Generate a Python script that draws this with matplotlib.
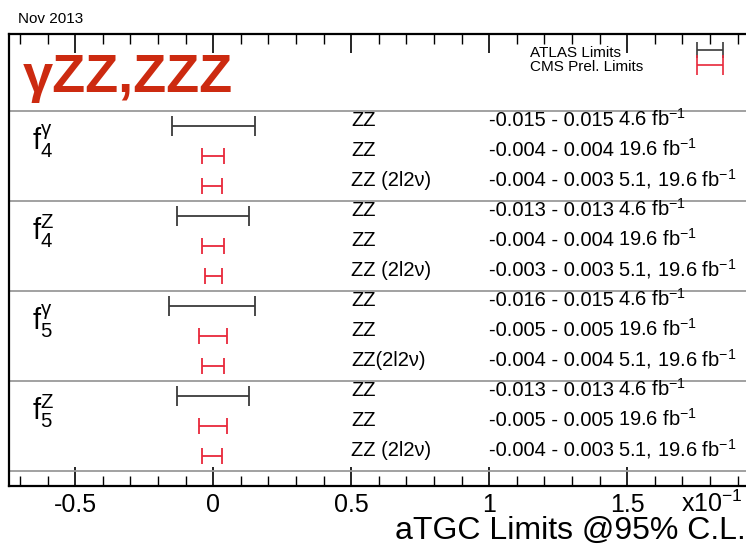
import numpy as np
import matplotlib
matplotlib.use("Agg")
import matplotlib.pyplot as plt

plt.rcParams['font.family'] = ['Liberation Sans', 'DejaVu Sans']
plt.rcParams['mathtext.fontset'] = 'custom'
plt.rcParams['mathtext.rm'] = 'Liberation Sans'
plt.rcParams['mathtext.it'] = 'Liberation Sans:italic'
plt.rcParams['mathtext.bf'] = 'Liberation Sans:bold'
plt.rcParams['axes.unicode_minus'] = False

# couplings (one block of three rows each)
couplings = [r'$\mathregular{f^{γ}_{4}}$', r'$\mathregular{f^{Z}_{4}}$',
             r'$\mathregular{f^{γ}_{5}}$', r'$\mathregular{f^{Z}_{5}}$']
# experiment for each row in a block: ATLAS, CMS, CMS
experiments = ['ATLAS', 'CMS', 'CMS']
channels = [['ZZ', 'ZZ', 'ZZ (2l2ν)'],
            ['ZZ', 'ZZ', 'ZZ (2l2ν)'],
            ['ZZ', 'ZZ', 'ZZ(2l2ν)'],
            ['ZZ', 'ZZ', 'ZZ (2l2ν)']]
lower = [[-0.015, -0.004, -0.004],
         [-0.013, -0.004, -0.003],
         [-0.016, -0.005, -0.004],
         [-0.013, -0.005, -0.004]]
upper = [[0.015, 0.004, 0.003],
         [0.013, 0.004, 0.003],
         [0.015, 0.005, 0.004],
         [0.013, 0.005, 0.003]]
lumis = ['4.6', '19.6', '5.1, 19.6']
scale = 10.0  # axis in units of 1e-1

major_ticks = [-0.5, 0, 0.5, 1, 1.5]
minor_ticks = [round(-0.7 + 0.1*i, 1) for i in range(27)]

colors = {'ATLAS': '#3a3a3a', 'CMS': '#e8283a'}
caps = {'ATLAS': 7, 'CMS': 6}

fig = plt.figure(figsize=(7.46, 5.47), dpi=100)
ax = fig.add_axes([9/746, 61/547, 748/746, 452/547])
ax.set_xlim(-0.74, 1.97)
ax.set_ylim(0, 15.07)

nblk = len(couplings)
for b in range(nblk):
    for r in range(3):
        y = 12 - 3*b - r
        lo = lower[b][r]*scale
        hi = upper[b][r]*scale
        exp = experiments[r]
        ax.errorbar([0], [y], xerr=[[-lo], [hi]], fmt='none', ecolor=colors[exp],
                    elinewidth=1.3, capsize=caps[exp], capthick=1.3)
        ax.text(0.5, y, channels[b][r], fontsize=14.5, va='baseline', ha='left')
        rng = '%.3f - %.3f' % (lower[b][r], upper[b][r])
        ax.text(0.998, y, rng, fontsize=14.5, va='baseline', ha='left')
        ax.text(1.467, y, lumis[r] + r' fb$^{\mathregular{-1}}$', fontsize=14.5,
                va='baseline', ha='left')
    ax.text(-0.655, 12 - 3*b - 1 + 0.2, couplings[b], fontsize=21,
            va='baseline', ha='left')

# separators
for ys in [12.5, 9.5, 6.5, 3.5, 0.5]:
    ax.axhline(ys, color='#9a9a9a', lw=1.3)

# legend
ax.errorbar([1.8], [14.53], xerr=[[0.048], [0.048]], fmt='none', ecolor=colors['ATLAS'],
            elinewidth=1.2, capsize=6, capthick=1.2)
ax.errorbar([1.8], [14.03], xerr=[[0.048], [0.048]], fmt='none', ecolor=colors['CMS'],
            elinewidth=1.2, capsize=7, capthick=1.2)
ax.text(1.149, 14.3, 'ATLAS Limits', fontsize=11, va='baseline')
ax.text(1.149, 13.83, 'CMS Prel. Limits', fontsize=11, va='baseline')

# title
ax.text(-0.69, 13.13, 'γZZ,ZZZ', fontsize=39, fontweight='bold', color='#cc2a10',
        va='baseline', ha='left')

ax.set_xticks(major_ticks)
ax.set_xticklabels(['-0.5', '0', '0.5', '1', '1.5'])
ax.set_xticks([t for t in minor_ticks if t not in major_ticks], minor=True)
ax.tick_params(axis='x', which='major', direction='in', length=14, width=1.2,
               top=True, labelsize=18, pad=5)
ax.tick_params(axis='x', which='minor', direction='in', length=7, width=1.0, top=True)
ax.set_yticks([])
for s in ['left', 'bottom', 'top']:
    ax.spines[s].set_linewidth(1.6)
ax.spines['right'].set_visible(False)

fig.text(681/746, 35/547, r'x10$^{\mathregular{-1}}$', fontsize=18, va='baseline')
fig.text(1.0, 8/547, 'aTGC Limits @95% C.L.', fontsize=23, ha='right', va='baseline')
fig.text(18/746, 524/547, 'Nov 2013', fontsize=11, va='baseline')

fig.savefig('out.png', dpi=100)
